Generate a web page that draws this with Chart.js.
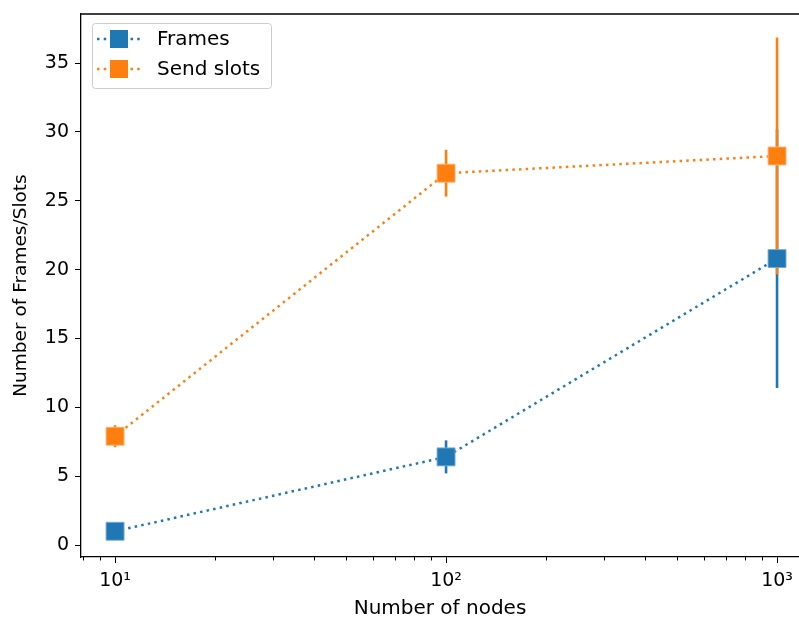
<!DOCTYPE html>
<html>
<head>
<meta charset="utf-8">
<script src="https://cdn.jsdelivr.net/npm/chart.js@4/dist/chart.umd.min.js"></script>
<style>
  html, body { margin: 0; padding: 0; background: #fff; }
  #wrap { width: 799px; height: 619px; }
</style>
</head>
<body>
<div id="wrap"><canvas id="Diagram1" width="799" height="619"></canvas></div>
<script>
// data
var nodes = [10, 100, 1000];
var frames = [1.0, 6.4, 20.8];
var framesErr = [0.3, 1.2, 9.4];
var slots = [7.9, 27.0, 28.25];
var slotsErr = [0.8, 1.7, 8.6];
var xMajorTicks = [10, 100, 1000];
var yTicks = [0, 5, 10, 15, 20, 25, 30, 35];
var seriesNames = ['Frames', 'Send slots'];

var blue = '#1f77b4';
var orange = '#ff7f0e';
var font = 'DejaVu Sans';

function toPoints(xs, ys) {
    var pts = [];
    for (var i = 0; i < xs.length; i++) {
        pts.push({x: xs[i], y: ys[i]});
    }
    return pts;
}

function supPow(v) {
    var sup = {'1': '\u00b9', '2': '\u00b2', '3': '\u00b3'};
    var e = Math.round(Math.log10(v));
    return '10' + sup[String(e)];
}

// error bars go under the markers
var errorBars = {
    id: 'errorBars',
    beforeDatasetsDraw: function(chart) {
        var ctx = chart.ctx;
        var xs = chart.scales.x, ys = chart.scales.y;
        var sets = [[frames, framesErr, blue], [slots, slotsErr, orange]];
        ctx.save();
        ctx.lineWidth = 2.6;
        sets.forEach(function(s) {
            ctx.strokeStyle = s[2];
            for (var i = 0; i < nodes.length; i++) {
                var px = xs.getPixelForValue(nodes[i]);
                ctx.beginPath();
                ctx.moveTo(px, ys.getPixelForValue(s[0][i] - s[1][i]));
                ctx.lineTo(px, ys.getPixelForValue(s[0][i] + s[1][i]));
                ctx.stroke();
            }
        });
        ctx.restore();
    }
};

// top spine, minor log ticks and the legend box
var decorations = {
    id: 'decorations',
    afterDraw: function(chart) {
        var ctx = chart.ctx;
        var a = chart.chartArea;
        var xs = chart.scales.x;
        ctx.save();
        ctx.strokeStyle = '#000';
        ctx.lineWidth = 1.3;
        ctx.beginPath();
        ctx.moveTo(a.left, a.top);
        ctx.lineTo(a.right + 4, a.top);
        ctx.stroke();

        ctx.lineWidth = 1;
        for (var d = 1; d <= 1000; d *= 10) {
            for (var m = 2; m <= 9; m++) {
                var v = d * m;
                if (v < xs.min || v > xs.max) continue;
                var px = Math.round(xs.getPixelForValue(v)) + 0.5;
                ctx.beginPath();
                ctx.moveTo(px, a.bottom);
                ctx.lineTo(px, a.bottom + 3.5);
                ctx.stroke();
            }
        }

        // legend
        var bx = 92, by = 23, bw = 179, bh = 65;
        ctx.fillStyle = 'rgba(255,255,255,0.8)';
        ctx.strokeStyle = '#cccccc';
        ctx.lineWidth = 1;
        ctx.beginPath();
        ctx.roundRect(bx + 0.5, by + 0.5, bw, bh, 3);
        ctx.fill();
        ctx.stroke();

        var cols = [blue, orange];
        var rows = [39, 69];
        for (var i = 0; i < seriesNames.length; i++) {
            var y = rows[i];
            ctx.strokeStyle = cols[i];
            ctx.lineWidth = 2.5;
            ctx.setLineDash([2.5, 4.2]);
            ctx.beginPath();
            ctx.moveTo(97, y);
            ctx.lineTo(142, y);
            ctx.stroke();
            ctx.setLineDash([]);
            ctx.lineWidth = 2.6;
            ctx.beginPath();
            ctx.moveTo(119, y - 9);
            ctx.lineTo(119, y + 9);
            ctx.stroke();
            ctx.fillStyle = cols[i];
            ctx.fillRect(110, y - 9, 18, 18);
            ctx.fillStyle = '#000';
            ctx.font = '20px "' + font + '"';
            ctx.textBaseline = 'middle';
            ctx.textAlign = 'left';
            ctx.fillText(seriesNames[i], 157, y + 1);
        }
        ctx.restore();
    }
};

var ctx1 = document.getElementById('Diagram1').getContext('2d');

var LineChart1 = new Chart(ctx1, {
    type: 'line',
    data: {
        datasets: [
        {
            label: seriesNames[0],
            data: toPoints(nodes, frames),
            borderColor: blue,
            backgroundColor: blue,
            borderWidth: 2.5,
            borderDash: [2.5, 4.2],
            pointStyle: 'rect',
            pointRadius: 12.7,
            pointBackgroundColor: blue,
            pointBorderColor: 'rgba(120,170,215,0.9)',
            pointBorderWidth: 1,
            fill: false,
            clip: false,
            order: 1
        },
        {
            label: seriesNames[1],
            data: toPoints(nodes, slots),
            borderColor: orange,
            backgroundColor: orange,
            borderWidth: 2.5,
            borderDash: [2.5, 4.2],
            pointStyle: 'rect',
            pointRadius: 12.7,
            pointBackgroundColor: orange,
            pointBorderColor: 'rgba(255,180,120,0.9)',
            pointBorderWidth: 1,
            fill: false,
            clip: false,
            order: 0
        }]
    },
    options: {
        responsive: false,
        animation: false,
        events: [],
        layout: {
            autoPadding: false,
            padding: {left: 0, right: 0, top: 14, bottom: 0}
        },
        plugins: {
            legend: { display: false },
            tooltip: { enabled: false }
        },
        scales: {
            x: {
                type: 'logarithmic',
                min: 7.89,
                max: 1165,
                afterBuildTicks: function(scale) {
                    scale.ticks = xMajorTicks.map(function(v) { return {value: v}; });
                },
                afterFit: function(scale) {
                    scale.height = 62;
                    scale.paddingLeft = 0;
                    scale.paddingRight = 0;
                },
                ticks: {
                    autoSkip: false,
                    maxRotation: 0,
                    padding: 7,
                    color: '#000',
                    font: {family: font, size: 19},
                    callback: function(v) { return supPow(v); }
                },
                grid: {
                    drawOnChartArea: false,
                    drawTicks: true,
                    tickLength: 6,
                    color: '#000'
                },
                border: { display: true, color: '#000', width: 1.3 },
                title: {
                    display: true,
                    text: 'Number of nodes',
                    color: '#000',
                    font: {family: font, size: 20, lineHeight: 1.0},
                    padding: {top: 0, bottom: 0}
                }
            },
            y: {
                min: -0.87,
                max: 38.56,
                afterBuildTicks: function(scale) {
                    scale.ticks = yTicks.map(function(v) { return {value: v}; });
                },
                afterFit: function(scale) {
                    scale.width = 81;
                    scale.paddingTop = 0;
                    scale.paddingBottom = 0;
                },
                ticks: {
                    padding: 6,
                    color: '#000',
                    font: {family: font, size: 19}
                },
                grid: {
                    drawOnChartArea: false,
                    drawTicks: true,
                    tickLength: 6,
                    color: '#000'
                },
                border: { display: true, color: '#000', width: 1.3 },
                title: {
                    display: true,
                    text: 'Number of Frames/Slots',
                    color: '#000',
                    font: {family: font, size: 18.5, lineHeight: 1.0},
                    padding: {top: 12, bottom: 0}
                }
            }
        }
    },
    plugins: [errorBars, decorations]
});
</script>
</body>
</html>
